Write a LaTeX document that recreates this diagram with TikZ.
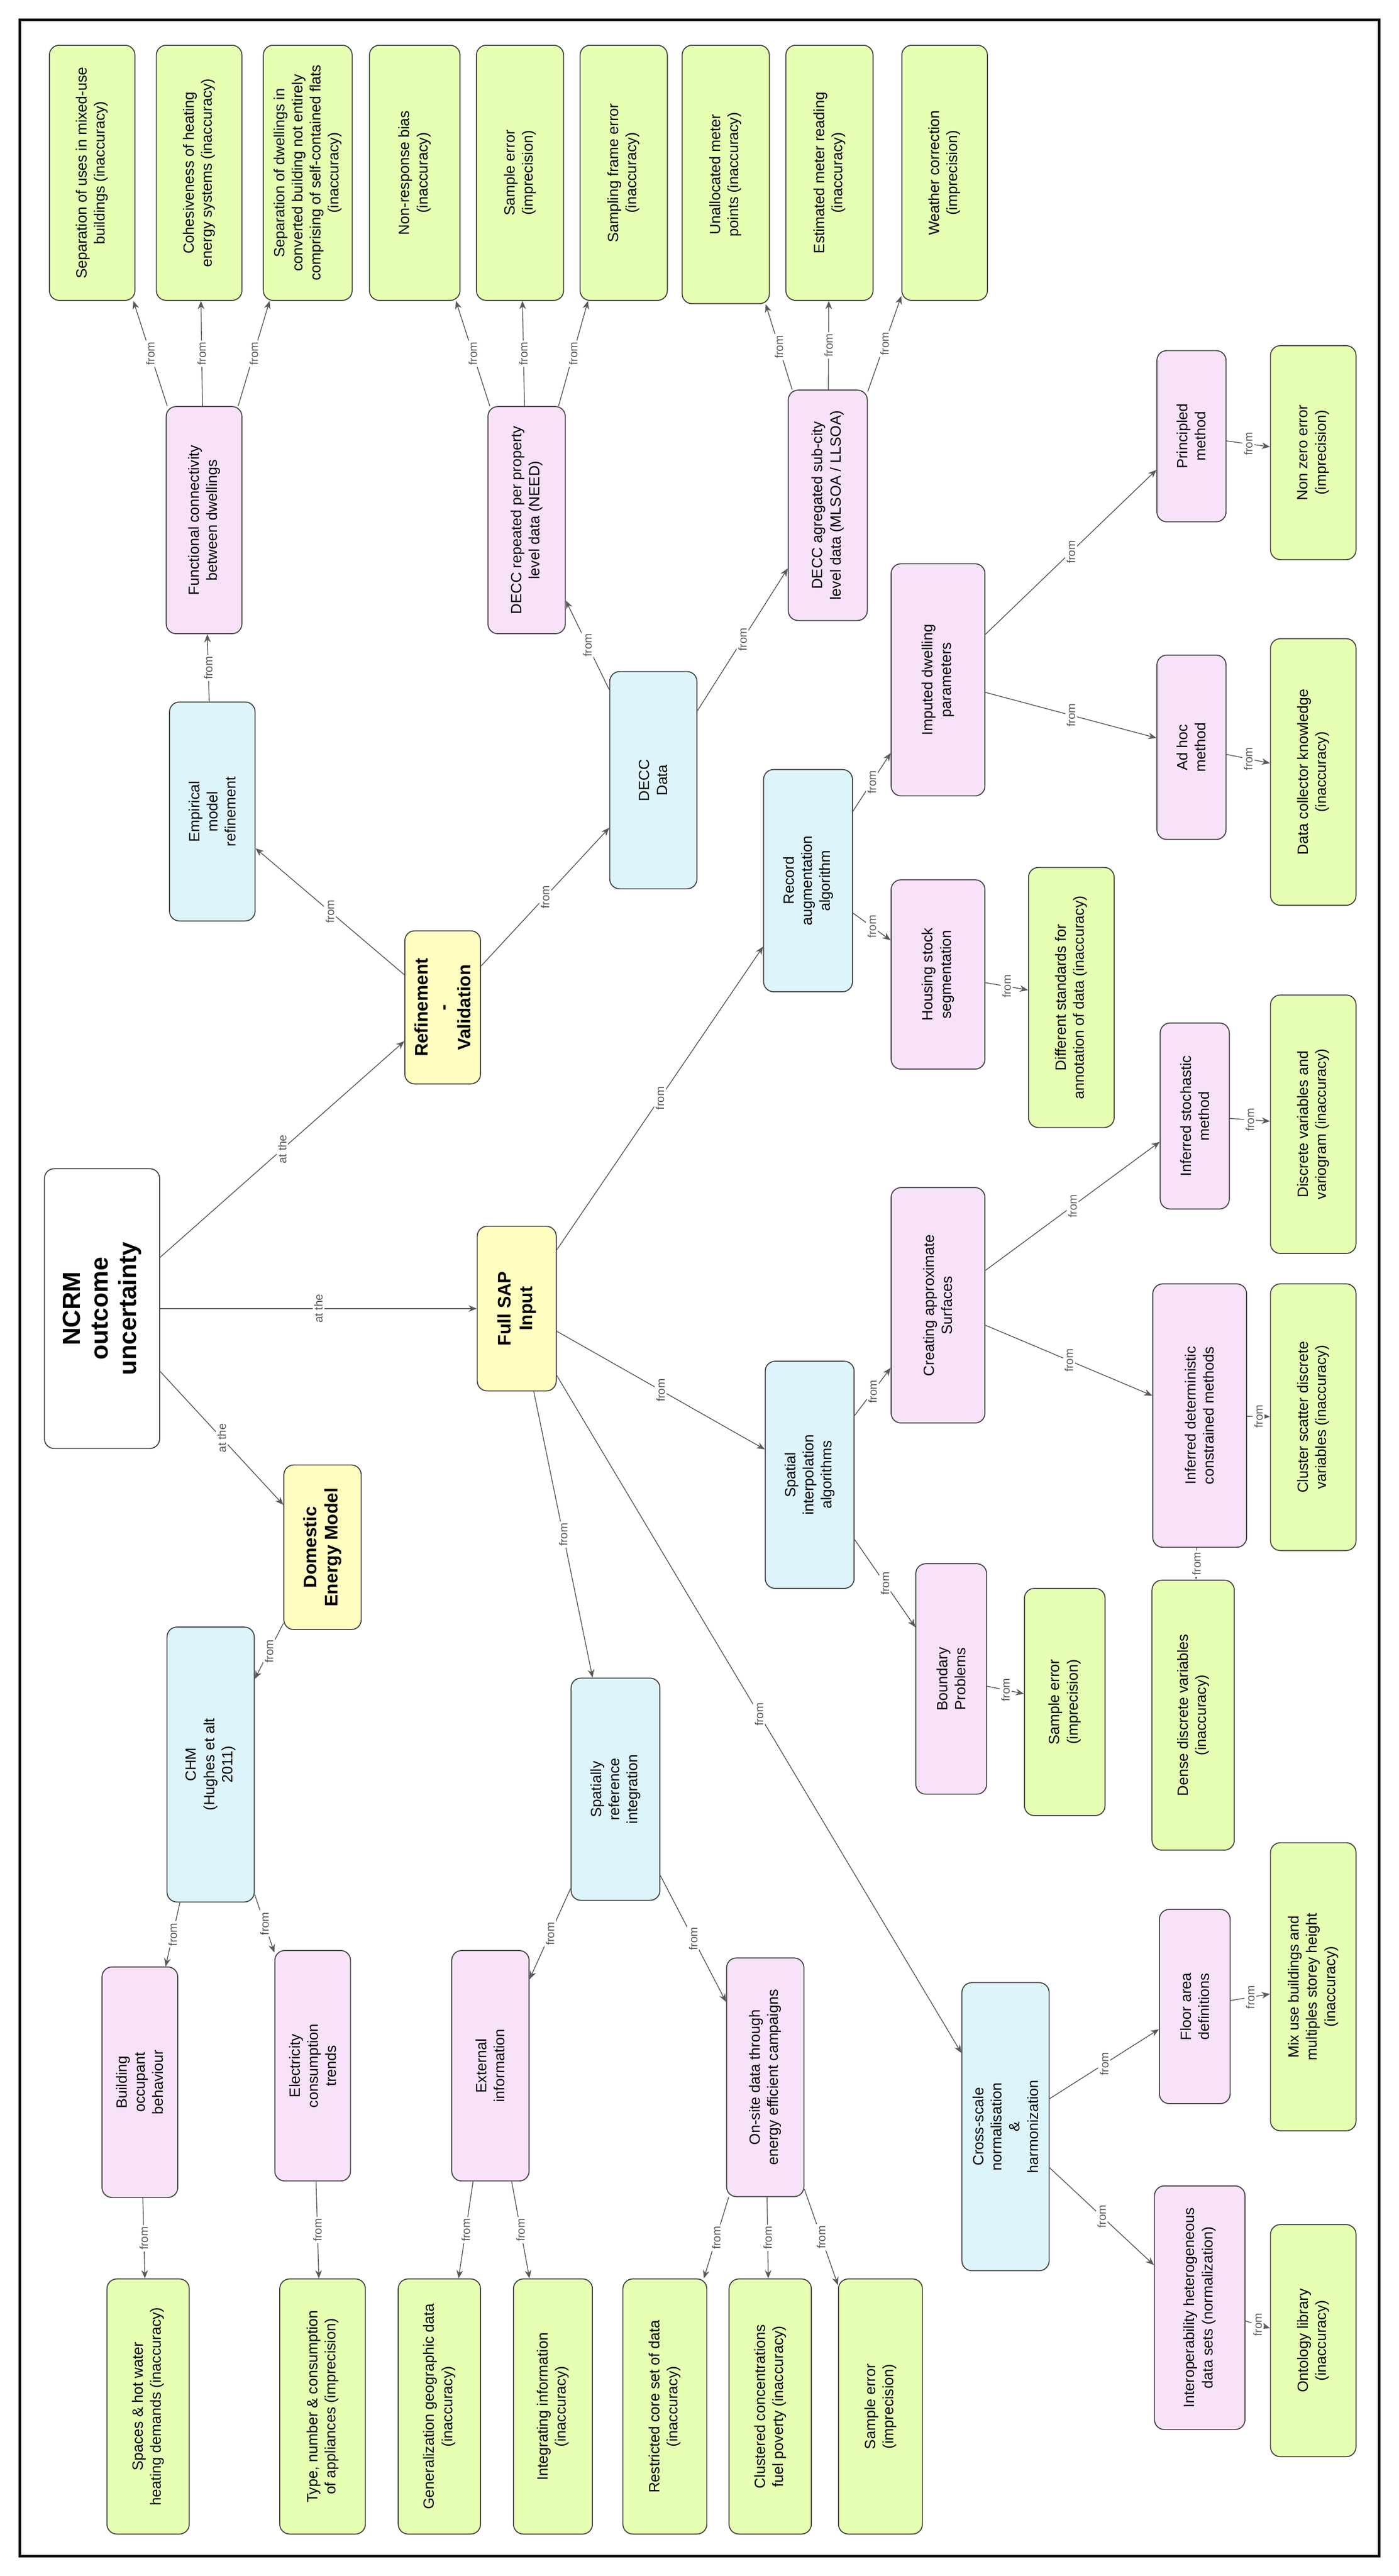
\documentclass[tikz,border=0pt]{standalone}
\usepackage{fontspec}
\setmainfont{Liberation Sans}
\usetikzlibrary{arrows.meta}
\definecolor{cg}{HTML}{E6FFB3}
\definecolor{cp}{HTML}{F7E2FA}
\definecolor{cb}{HTML}{DDF4FB}
\definecolor{cy}{HTML}{FFFDC0}
\tikzset{
 box/.style={draw=black!75, rounded corners=6pt, rotate=90, align=center, font=\fontsize{9}{11}\selectfont, inner sep=2pt, line width=0.6pt},
 G/.style={box, fill=cg},
 P/.style={box, fill=cp},
 Bl/.style={box, fill=cb},
 Y/.style={box, fill=cy, font=\bfseries\fontsize{11}{13}\selectfont},
 con/.style={draw=black!65, -{Stealth[length=5pt,width=4pt]}, line width=0.5pt},
 lab/.style={font=\fontsize{7}{8}\selectfont, text=black!65, fill=white, inner sep=1pt, rotate=90},
}
\newcommand{\ed}[3][from]{\draw[con] (#2) -- node[lab]{#1} (#3);}
\begin{document}
\begin{tikzpicture}[x=1pt,y=-1pt]
\useasboundingbox (0,0) rectangle (850,1565);
\draw[line width=1.5pt] (12,12) rectangle (838,1553);
% root & yellow
\node[box, fill=white, font=\bfseries\fontsize{15}{17}\selectfont, minimum width=170, minimum height=70] (root) at (62,795) {NCRM\\outcome\\uncertainty};
\node[Y, minimum width=93, minimum height=46] (ref) at (269,612) {Refinement\\-\\Validation};
\node[Y, minimum width=100, minimum height=48] (sap) at (314,795) {Full SAP\\Input};
\node[Y, minimum width=100, minimum height=47] (dem) at (196,940) {Domestic\\Energy Model};
% blue
\node[Bl, minimum width=133, minimum height=52] (emp) at (129,493) {Empirical\\model\\refinement};
\node[Bl, minimum width=132, minimum height=53] (decc) at (397,474) {DECC\\Data};
\node[Bl, minimum width=135, minimum height=54] (rec) at (491,535) {Record\\augmentation\\algorithm};
\node[Bl, minimum width=138, minimum height=54] (spi) at (492,896) {Spatial\\interpolation\\algorithms};
\node[Bl, minimum width=135, minimum height=54] (sri) at (374,1087) {Spatially\\reference\\integration};
\node[Bl, minimum width=167, minimum height=53] (chm) at (128,1072) {CHM\\(Hughes et alt\\2011)};
\node[Bl, minimum width=175, minimum height=53] (cs) at (611,1292) {Cross-scale\\normalisation\\\&\\harmonization};
% pink
\node[P, minimum width=138, minimum height=46] (fc) at (124,316) {Functional connectivity\\between dwellings};
\node[P, minimum width=138, minimum height=47] (need) at (320,316) {DECC repeated per property\\level data (NEED)};
\node[P, minimum width=140, minimum height=48] (mls) at (503,307) {DECC agregated sub-city\\level data (MLSOA / LLSOA)};
\node[P, minimum width=141, minimum height=57] (imp) at (570,413) {Imputed dwelling\\parameters};
\node[P, minimum width=104, minimum height=42] (pri) at (724,265) {Principled\\method};
\node[P, minimum width=112, minimum height=42] (adh) at (724,454) {Ad hoc\\method};
\node[P, minimum width=115, minimum height=57] (hss) at (570,592) {Housing stock\\segmentation};
\node[P, minimum width=113, minimum height=42] (ist) at (726,678) {Inferred stochastic\\method};
\node[P, minimum width=143, minimum height=57] (cas) at (570,793) {Creating approximate\\Surfaces};
\node[P, minimum width=160, minimum height=57] (idc) at (729,860) {Inferred deterministic\\constrained methods};
\node[P, minimum width=140, minimum height=43] (bp) at (578,1020) {Boundary\\Problems};
\node[P, minimum width=140, minimum height=46] (boc) at (85,1265) {Building\\occupant\\behaviour};
\node[P, minimum width=140, minimum height=46] (ect) at (190,1255) {Electricity\\consumption\\trends};
\node[P, minimum width=140, minimum height=47] (ext) at (298,1255) {External\\information};
\node[P, minimum width=145, minimum height=47] (ons) at (465,1262) {On-site data through\\energy efficient campaigns};
\node[P, minimum width=118, minimum height=43] (fad) at (726,1219) {Floor area\\definitions};
\node[P, minimum width=148, minimum height=55] (ihd) at (729,1402) {Interoperability heterogeneous\\data sets (normalization)};
% green
\node[G, minimum width=155, minimum height=52] (g1) at (56,105) {Separation of uses in mixed-use\\buildings (inaccuracy)};
\node[G, minimum width=155, minimum height=52] (g2) at (121,105) {Cohesiveness of heating\\energy systems (inaccuracy)};
\node[G, minimum width=155, minimum height=54] (g3) at (187,105) {Separation of dwellings in\\converted building not entirely\\comprising of self-contained flats\\(inaccuracy)};
\node[G, minimum width=155, minimum height=55] (g4) at (252,105) {Non-response bias\\(inaccuracy)};
\node[G, minimum width=155, minimum height=53] (g5) at (316,105) {Sample error\\(imprecision)};
\node[G, minimum width=155, minimum height=53] (g6) at (379,105) {Sampling frame error\\(inaccuracy)};
\node[G, minimum width=157, minimum height=53] (g7) at (441,106) {Unallocated meter\\points (inaccuracy)};
\node[G, minimum width=155, minimum height=53] (g8) at (504,105) {Estimated meter reading\\(inaccuracy)};
\node[G, minimum width=155, minimum height=52] (g9) at (574,105) {Weather correction\\(imprecision)};
\node[G, minimum width=130, minimum height=52] (gnz) at (798,275) {Non zero error\\(imprecision)};
\node[G, minimum width=162, minimum height=52] (gdc) at (798,469) {Data collector knowledge\\(inaccuracy)};
\node[G, minimum width=158, minimum height=52] (gds) at (651,606) {Different standards for\\annotation of data (inaccuracy)};
\node[G, minimum width=157, minimum height=52] (gdv) at (798,683) {Discrete variables and\\variogram (inaccuracy)};
\node[G, minimum width=162, minimum height=52] (gcs) at (798,861) {Cluster scatter discrete\\variables (inaccuracy)};
\node[G, minimum width=138, minimum height=49] (gse) at (647,1034) {Sample error\\(imprecision)};
\node[G, minimum width=164, minimum height=50] (gdd) at (725,1042) {Dense discrete variables\\(inaccuracy)};
\node[G, minimum width=175, minimum height=52] (gmu) at (798,1207) {Mix use buildings and\\multiples storey height\\(inaccuracy)};
\node[G, minimum width=141, minimum height=52] (gol) at (798,1422) {Ontology library\\(inaccuracy)};
\node[G, minimum width=155, minimum height=50] (gsh) at (90,1462) {Spaces \& hot water\\heating demands (inaccuracy)};
\node[G, minimum width=155, minimum height=52] (gty) at (196,1462) {Type, number \& consumption\\of appliances (imprecision)};
\node[G, minimum width=155, minimum height=50] (gge) at (267,1462) {Generalization geographic data\\(inaccuracy)};
\node[G, minimum width=155, minimum height=48] (gii) at (336,1462) {Integrating information\\(inaccuracy)};
\node[G, minimum width=155, minimum height=51] (grc) at (404,1462) {Restricted core set of data\\(inaccuracy)};
\node[G, minimum width=155, minimum height=50] (gcc) at (468,1462) {Clustered concentrations\\fuel poverty (inaccuracy)};
\node[G, minimum width=155, minimum height=51] (gs2) at (535,1462) {Sample error\\(imprecision)};
% edges
\ed[at the]{root}{ref} \ed[at the]{root}{sap} \ed[at the]{root}{dem}
\ed{dem}{chm} \ed{chm}{boc} \ed{chm}{ect} \ed{boc}{gsh} \ed{ect}{gty}
\ed{ref}{emp} \ed{ref}{decc} \ed{emp}{fc}
\ed{fc}{g1} \ed{fc}{g2} \ed{fc}{g3}
\ed{decc}{need} \ed{decc}{mls}
\ed{need}{g4} \ed{need}{g5} \ed{need}{g6}
\ed{mls}{g7} \ed{mls}{g8} \ed{mls}{g9}
\ed{sap}{rec} \ed{sap}{spi} \ed{sap}{sri} \ed{sap}{cs}
\ed{rec}{imp} \ed{rec}{hss} \ed{imp}{pri} \ed{imp}{adh}
\ed{pri}{gnz} \ed{adh}{gdc} \ed{hss}{gds}
\ed{spi}{cas} \ed{spi}{bp} \ed{cas}{ist} \ed{cas}{idc}
\ed{ist}{gdv} \ed{idc}{gcs} \ed{idc}{gdd} \ed{bp}{gse}
\ed{sri}{ext} \ed{sri}{ons} \ed{ext}{gge} \ed{ext}{gii}
\ed{ons}{grc} \ed{ons}{gcc} \ed{ons}{gs2}
\ed{cs}{fad} \ed{cs}{ihd} \ed{fad}{gmu} \ed{ihd}{gol}
\end{tikzpicture}
\end{document}
